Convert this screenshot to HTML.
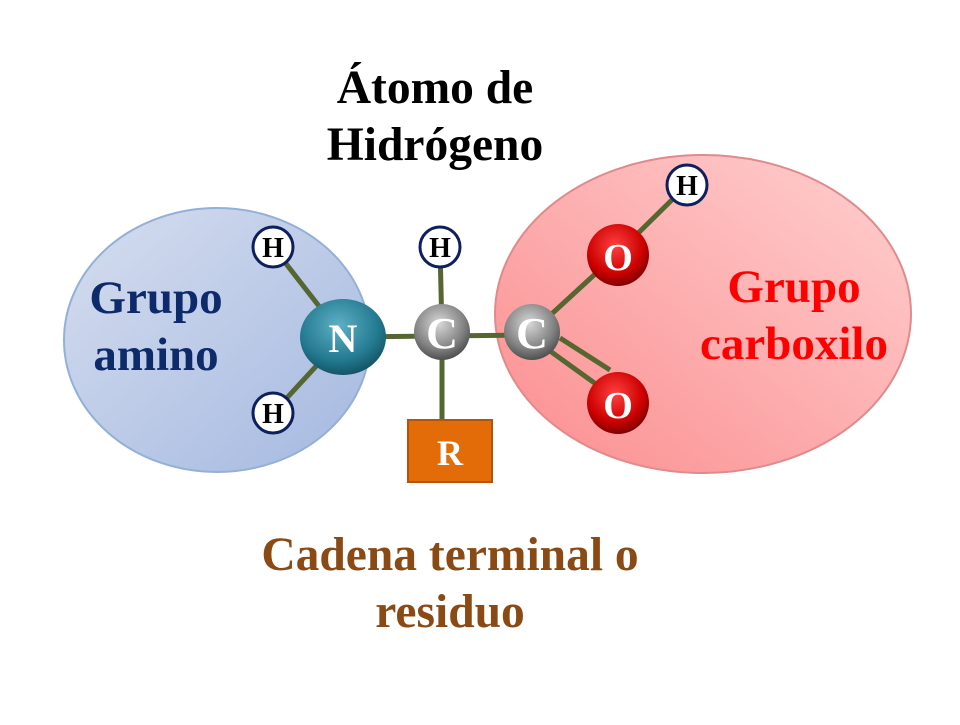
<!DOCTYPE html>
<html><head><meta charset="utf-8"><style>
body{margin:0;background:#fff;}
svg text{font-family:"Liberation Serif",serif;font-weight:bold;}
</style></head><body>
<svg width="960" height="720" viewBox="0 0 960 720" xmlns="http://www.w3.org/2000/svg">
<defs>
<linearGradient id="gb" x1="0" y1="0" x2="1" y2="1"><stop offset="0" stop-color="#d6deef"/><stop offset="1" stop-color="#a4b8e0"/></linearGradient>
<linearGradient id="gr" x1="1" y1="0" x2="0" y2="1"><stop offset="0" stop-color="#ffd0d0"/><stop offset="1" stop-color="#fb8d8f"/></linearGradient>
<radialGradient id="gn" cx="0.45" cy="0.35" r="0.65"><stop offset="0" stop-color="#5fb0c4"/><stop offset="0.7" stop-color="#237a91"/><stop offset="1" stop-color="#145566"/></radialGradient>
<radialGradient id="gc" cx="0.45" cy="0.35" r="0.65"><stop offset="0" stop-color="#d8d8d8"/><stop offset="0.7" stop-color="#808080"/><stop offset="1" stop-color="#505050"/></radialGradient>
<radialGradient id="go" cx="0.45" cy="0.35" r="0.65"><stop offset="0" stop-color="#ff4040"/><stop offset="0.7" stop-color="#cc0000"/><stop offset="1" stop-color="#800000"/></radialGradient>
</defs>
<ellipse cx="217" cy="340" rx="153" ry="132" fill="url(#gb)" stroke="#93b0d8" stroke-width="2"/>
<ellipse cx="703" cy="314" rx="208" ry="159" fill="url(#gr)" stroke="#e08a8c" stroke-width="2"/>
<g stroke="#566630" stroke-width="5">
<line x1="273" y1="247" x2="343" y2="337"/>
<line x1="273" y1="413" x2="343" y2="337"/>
<line x1="343" y1="337" x2="532" y2="335"/>
<line x1="440" y1="247" x2="442" y2="332"/>
<line x1="442" y1="332" x2="442" y2="420"/>
<line x1="532" y1="332" x2="618" y2="253"/>
<line x1="618" y1="253" x2="687" y2="185"/>
<line x1="532" y1="338" x2="600" y2="387"/>
<line x1="560" y1="338" x2="610" y2="370"/>
</g>
<g fill="#fff" stroke="#0d1f5c" stroke-width="3">
<circle cx="273" cy="247" r="20"/><circle cx="273" cy="413" r="20"/><circle cx="440" cy="247" r="20"/><circle cx="687" cy="185" r="20"/>
</g>
<g font-size="28" text-anchor="middle" fill="#000">
<text x="273" y="257">H</text><text x="273" y="423">H</text><text x="440" y="257">H</text><text x="687" y="195">H</text>
</g>
<ellipse cx="343" cy="337" rx="43" ry="38" fill="url(#gn)"/>
<circle cx="442" cy="332" r="28" fill="url(#gc)"/>
<circle cx="532" cy="332" r="28" fill="url(#gc)"/>
<circle cx="618" cy="255" r="31" fill="url(#go)"/>
<circle cx="618" cy="403" r="31" fill="url(#go)"/>
<rect x="408" y="420" width="84" height="62" fill="#e36c09" stroke="#b4540a" stroke-width="2"/>
<g fill="#fff" text-anchor="middle">
<text x="343" y="352" font-size="40">N</text>
<text x="442" y="348" font-size="44">C</text>
<text x="532" y="348" font-size="44">C</text>
<text x="618" y="270" font-size="38">O</text>
<text x="618" y="418" font-size="38">O</text>
<text x="450" y="465" font-size="36">R</text>
</g>
<g font-size="47.5" text-anchor="middle">
<text x="435" y="103" fill="#000">Átomo de</text>
<text x="435" y="160" fill="#000">Hidrógeno</text>
<text x="156" y="313" fill="#0d2a6b" font-size="47">Grupo</text>
<text x="156" y="370" fill="#0d2a6b" font-size="47">amino</text>
<text x="794" y="302" fill="#ff0000" font-size="47">Grupo</text>
<text x="794" y="359" fill="#ff0000" font-size="47">carboxilo</text>
<text x="450" y="570" fill="#8b4a14">Cadena terminal o</text>
<text x="450" y="627" fill="#8b4a14">residuo</text>
</g>
</svg>
</body></html>
